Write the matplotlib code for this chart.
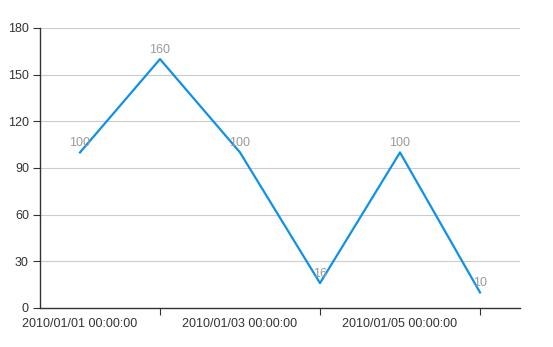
import matplotlib
matplotlib.use("Agg")
import matplotlib.pyplot as plt

dates = ["2010/01/01 00:00:00", "2010/01/02 00:00:00", "2010/01/03 00:00:00",
         "2010/01/04 00:00:00", "2010/01/05 00:00:00", "2010/01/06 00:00:00"]
values = [100, 160, 100, 16, 100, 10]
y_ticks = [0, 30, 60, 90, 120, 150, 180]

plt.rcParams["font.family"] = ["Liberation Sans", "DejaVu Sans"]

fig = plt.figure(figsize=(5.53, 3.47), dpi=100)
ax = fig.add_axes([40 / 553, 1 - 308 / 347, 480 / 553, 280 / 347])

x = list(range(1, len(dates) + 1))
ax.plot(x, values, color="#0f91ea", linewidth=1.6, zorder=3)
for xi, v in zip(x, values):
    ax.annotate(str(v), (xi, v), xytext=(0, 2.5), textcoords="offset points",
                ha="center", va="bottom", fontsize=9, color="#999999")

ax.set_xlim(0.5, len(dates) + 0.5)
ax.set_ylim(0, 180)
ax.set_yticks(y_ticks)
ax.grid(axis="y", color="#cccccc", linewidth=0.8)
ax.set_axisbelow(True)

# tick marks on even days, labels on odd days
ax.set_xticks(x[1::2])
ax.set_xticklabels([])
ax.set_xticks(x[0::2], minor=True)
ax.set_xticklabels(dates[0::2], minor=True)
ax.tick_params(axis="x", which="major", length=5, color="#333333")
ax.tick_params(axis="x", which="minor", length=0, pad=7, labelsize=9,
               labelcolor="#333333")
ax.tick_params(axis="y", length=5, color="#333333", labelsize=9,
               labelcolor="#333333", pad=3)

for side in ("top", "right"):
    ax.spines[side].set_visible(False)
for side in ("left", "bottom"):
    ax.spines[side].set_color("#333333")
    ax.spines[side].set_linewidth(1)

fig.savefig("out.png", dpi=100)
